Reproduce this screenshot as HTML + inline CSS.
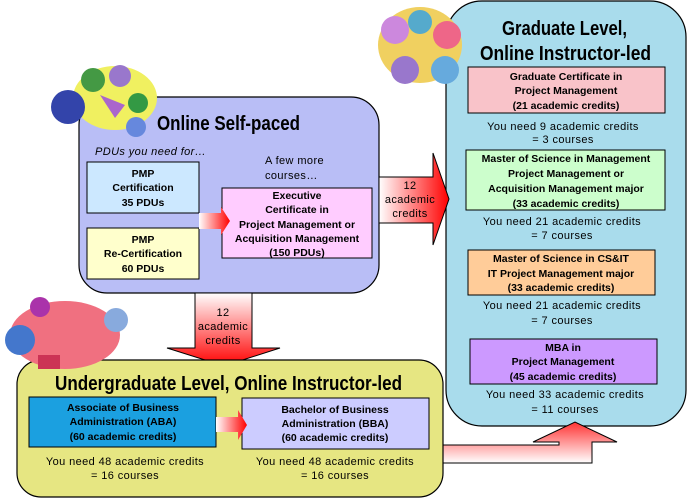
<!DOCTYPE html>
<html><head><meta charset="utf-8"><style>
html,body{margin:0;padding:0;background:#fff;width:687px;height:499px;overflow:hidden}
svg{display:block}
.b{font-family:"Liberation Sans",Arial,sans-serif;font-weight:bold;font-size:10.5px;fill:#000}
.n{font-family:"Liberation Sans",Arial,sans-serif;font-size:11px;letter-spacing:0.4px;fill:#000}
.t{font-family:"Liberation Sans",sans-serif;font-weight:bold;font-size:20px;fill:#000}
</style></head><body>
<svg width="687" height="499" viewBox="0 0 687 499" xmlns="http://www.w3.org/2000/svg">
<defs>
<linearGradient id="gh" x1="0" y1="0" x2="1" y2="0"><stop offset="0" stop-color="#fff"/><stop offset="1" stop-color="#f00"/></linearGradient>
<linearGradient id="gv" x1="0" y1="0" x2="0" y2="1"><stop offset="0" stop-color="#fff"/><stop offset="1" stop-color="#f00"/></linearGradient>
<linearGradient id="gu" x1="0" y1="1" x2="0" y2="0"><stop offset="0" stop-color="#fff"/><stop offset="1" stop-color="#f33"/></linearGradient>
</defs>

<!-- graduate box -->
<rect x="446" y="1" width="240" height="425" rx="36" fill="#a9dcec" stroke="#000" stroke-width="1.2"/>
<text class="t" x="502" y="35" textLength="125" lengthAdjust="spacingAndGlyphs">Graduate Level,</text>
<text class="t" x="480" y="60" textLength="171" lengthAdjust="spacingAndGlyphs">Online Instructor-led</text>

<rect x="468" y="67" width="197" height="46" fill="#f9c3c9" stroke="#000"/>
<text class="b" text-anchor="middle" x="566" y="80">Graduate Certificate in</text>
<text class="b" text-anchor="middle" x="566" y="94">Project Management</text>
<text class="b" text-anchor="middle" x="566" y="109">(21 academic credits)</text>
<text class="n" text-anchor="middle" x="563" y="130">You need 9 academic credits</text>
<text class="n" text-anchor="middle" x="563" y="143">= 3 courses</text>

<rect x="466" y="150" width="199" height="60" fill="#ccfecc" stroke="#000"/>
<text class="b" text-anchor="middle" x="566" y="162">Master of Science in Management</text>
<text class="b" text-anchor="middle" x="566" y="177">Project Management or</text>
<text class="b" text-anchor="middle" x="566" y="192">Acquisition Management major</text>
<text class="b" text-anchor="middle" x="566" y="207">(33 academic credits)</text>
<text class="n" text-anchor="middle" x="562" y="225">You need 21 academic credits</text>
<text class="n" text-anchor="middle" x="562" y="239">= 7 courses</text>

<rect x="468" y="250" width="187" height="45" fill="#ffcc99" stroke="#000"/>
<text class="b" text-anchor="middle" x="561" y="262">Master of Science in CS&amp;IT</text>
<text class="b" text-anchor="middle" x="561" y="277">IT Project Management major</text>
<text class="b" text-anchor="middle" x="561" y="291">(33 academic credits)</text>
<text class="n" text-anchor="middle" x="562" y="309">You need 21 academic credits</text>
<text class="n" text-anchor="middle" x="562" y="324">= 7 courses</text>

<rect x="470" y="339" width="187" height="45" fill="#cc99ff" stroke="#000"/>
<text class="b" text-anchor="middle" x="563" y="351">MBA in</text>
<text class="b" text-anchor="middle" x="563" y="365">Project Management</text>
<text class="b" text-anchor="middle" x="563" y="380">(45 academic credits)</text>
<text class="n" text-anchor="middle" x="565" y="398">You need 33 academic credits</text>
<text class="n" text-anchor="middle" x="565" y="413">= 11 courses</text>

<!-- L arrow up into graduate -->
<path d="M440,445 L559,445 L559,442 L533,442 L575,422 L617,442 L592,442 L592,463 L440,463 Z" fill="url(#gu)" stroke="#000"/>

<!-- self paced box -->
<rect x="79" y="97" width="300" height="196" rx="28" fill="#b9bef6" stroke="#000" stroke-width="1.2"/>
<text class="t" x="157" y="130" textLength="143" lengthAdjust="spacingAndGlyphs">Online Self-paced</text>
<text class="n" x="95" y="155" font-style="italic" letter-spacing="0">PDUs you need for…</text>
<rect x="87" y="162" width="112" height="51" fill="#cce8ff" stroke="#000"/>
<text class="b" text-anchor="middle" x="143" y="177">PMP</text>
<text class="b" text-anchor="middle" x="143" y="191">Certification</text>
<text class="b" text-anchor="middle" x="143" y="206">35 PDUs</text>
<rect x="87" y="228" width="112" height="51" fill="#ffffcc" stroke="#000"/>
<text class="b" text-anchor="middle" x="143" y="243">PMP</text>
<text class="b" text-anchor="middle" x="143" y="257">Re-Certification</text>
<text class="b" text-anchor="middle" x="143" y="272">60 PDUs</text>
<text class="n" x="265" y="164" letter-spacing="0">A few more</text>
<text class="n" x="265" y="179" letter-spacing="0">courses…</text>
<rect x="222" y="188" width="150" height="70" fill="#ffccff" stroke="#000"/>
<text class="b" text-anchor="middle" x="297" y="199">Executive</text>
<text class="b" text-anchor="middle" x="297" y="213">Certificate in</text>
<text class="b" text-anchor="middle" x="297" y="228">Project Management or</text>
<text class="b" text-anchor="middle" x="297" y="242">Acquisition Management</text>
<text class="b" text-anchor="middle" x="297" y="256">(150 PDUs)</text>
<path d="M199,213 L221,213 L221,207 L230,221 L221,235 L221,229 L199,229 Z" fill="url(#gh)"/>

<!-- right arrow -->
<path d="M379,177 L433,177 L433,153 L449,199 L433,245 L433,223 L379,223 Z" fill="url(#gh)" stroke="#000"/>
<text class="n" text-anchor="middle" x="410" y="189" letter-spacing="0">12</text>
<text class="n" text-anchor="middle" x="410" y="203" letter-spacing="0">academic</text>
<text class="n" text-anchor="middle" x="410" y="217" letter-spacing="0">credits</text>

<!-- down arrow -->
<path d="M195,293 L252,293 L252,348 L280,348 L224,366 L167,348 L195,348 Z" fill="url(#gv)" stroke="#000"/>
<text class="n" text-anchor="middle" x="223" y="316" letter-spacing="0">12</text>
<text class="n" text-anchor="middle" x="223" y="330" letter-spacing="0">academic</text>
<text class="n" text-anchor="middle" x="223" y="344" letter-spacing="0">credits</text>

<!-- undergrad -->
<rect x="17" y="360" width="426" height="137" rx="24" fill="#e6e682" stroke="#000" stroke-width="1.2"/>
<text class="t" x="55" y="390" textLength="347" lengthAdjust="spacingAndGlyphs">Undergraduate Level, Online Instructor-led</text>
<rect x="29" y="397" width="187" height="50" fill="#1ba0e0" stroke="#000"/>
<text class="b" text-anchor="middle" x="123" y="411">Associate of Business</text>
<text class="b" text-anchor="middle" x="123" y="425">Administration (ABA)</text>
<text class="b" text-anchor="middle" x="123" y="440">(60 academic credits)</text>
<rect x="242" y="398" width="187" height="51" fill="#ccccff" stroke="#000"/>
<text class="b" text-anchor="middle" x="335" y="413">Bachelor of Business</text>
<text class="b" text-anchor="middle" x="335" y="427">Administration (BBA)</text>
<text class="b" text-anchor="middle" x="335" y="441">(60 academic credits)</text>
<path d="M216,417 L238,417 L238,410 L247,425 L238,440 L238,432 L216,432 Z" fill="url(#gh)"/>
<text class="n" text-anchor="middle" x="125" y="465">You need 48 academic credits</text>
<text class="n" text-anchor="middle" x="125" y="479">= 16 courses</text>
<text class="n" text-anchor="middle" x="335" y="465">You need 48 academic credits</text>
<text class="n" text-anchor="middle" x="335" y="479">= 16 courses</text>

<!-- clipart blobs -->
<g>
<ellipse cx="115" cy="98" rx="42" ry="32" fill="#f0f060"/>
<circle cx="68" cy="107" r="17" fill="#3344aa"/>
<circle cx="93" cy="80" r="12" fill="#449944"/>
<circle cx="120" cy="76" r="11" fill="#9977cc"/>
<circle cx="138" cy="103" r="10" fill="#339944"/>
<circle cx="136" cy="127" r="10" fill="#6688dd"/>
<path d="M100,95 L125,105 L115,118 Z" fill="#aa66cc"/>
</g>
<g>
<ellipse cx="420" cy="45" rx="42" ry="38" fill="#f0d060"/>
<circle cx="395" cy="30" r="14" fill="#cc88dd"/>
<circle cx="420" cy="22" r="12" fill="#55aacc"/>
<circle cx="447" cy="35" r="14" fill="#ee6688"/>
<circle cx="405" cy="70" r="14" fill="#9977cc"/>
<circle cx="445" cy="70" r="14" fill="#66aadd"/>
</g>
<g>
<ellipse cx="65" cy="335" rx="55" ry="34" fill="#f07080"/>
<circle cx="20" cy="340" r="15" fill="#4477cc"/>
<circle cx="40" cy="307" r="10" fill="#aa33aa"/>
<circle cx="116" cy="320" r="12" fill="#88aadd"/>
<rect x="38" y="355" width="22" height="14" fill="#cc3355"/>
</g>
</svg>
</body></html>
